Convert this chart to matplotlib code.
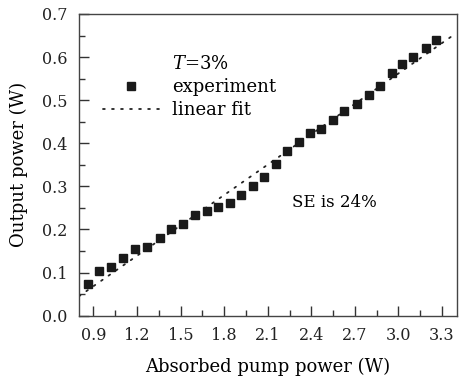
import matplotlib
matplotlib.use("Agg")
import matplotlib.pyplot as plt
from matplotlib.lines import Line2D
from matplotlib.ticker import MultipleLocator
import numpy as np

plt.rcParams["font.family"] = ["DejaVu Serif"]
plt.rcParams["mathtext.fontset"] = "dejavuserif"

# measured points (absorbed pump power W, output power W)
pump_power = [0.86, 0.94, 1.02, 1.10, 1.187, 1.27, 1.358, 1.436, 1.516, 1.60,
              1.68, 1.756, 1.84, 1.916, 2.00, 2.074, 2.156, 2.236, 2.314, 2.389,
              2.47, 2.547, 2.627, 2.718, 2.799, 2.874, 2.956, 3.027, 3.10, 3.19,
              3.258]
output_power = [0.073, 0.103, 0.112, 0.133, 0.154, 0.160, 0.181, 0.202, 0.212, 0.233,
                0.242, 0.252, 0.262, 0.281, 0.302, 0.322, 0.351, 0.383, 0.402, 0.423,
                0.434, 0.454, 0.475, 0.492, 0.513, 0.532, 0.564, 0.583, 0.601, 0.621,
                0.640]

# linear fit parameters (slope efficiency ~24%)
fit_slope = 0.235
fit_intercept = -0.143
fit_range = [0.8, 3.36]

fig = plt.figure(figsize=(4.59, 3.81), dpi=100)
ax = fig.add_axes([0.172, 0.1714, 0.8226, 0.7919])

fit_x = np.array(fit_range)
ax.plot(fit_x, fit_slope * fit_x + fit_intercept, color="#222222",
        linestyle=(0, (1, 4)), linewidth=1.3, dash_capstyle="round",
        label="linear fit", zorder=2)
ax.plot(pump_power, output_power, linestyle="none", marker="s",
        markersize=5.8, color="#1a1a1a", label="experiment", zorder=3)

ax.set_xlim(0.8, 3.4)
ax.set_ylim(0.0, 0.7)
ax.xaxis.set_minor_locator(MultipleLocator(0.15))
ax.yaxis.set_major_locator(MultipleLocator(0.1))
ax.yaxis.set_minor_locator(MultipleLocator(0.05))
ax.set_xticks(np.arange(0.9, 3.31, 0.3))
ax.xaxis.set_major_formatter(plt.FormatStrFormatter("%.1f"))
ax.yaxis.set_major_formatter(plt.FormatStrFormatter("%.1f"))

ax.tick_params(which="both", direction="in", top=False, right=False,
               labelsize=11.5, color="#333333", colors="#222222")
ax.tick_params(which="major", length=7, width=1)
ax.tick_params(which="minor", length=4, width=1)
ax.tick_params(axis="x", pad=8)
ax.tick_params(axis="y", pad=8)
for sp in ax.spines.values():
    sp.set_color("#444444")
    sp.set_linewidth(1.0)

ax.set_xlabel("Absorbed pump power (W)", fontsize=13, labelpad=10)
ax.set_ylabel("Output power (W)", fontsize=13, labelpad=10)

handles, labels = ax.get_legend_handles_labels()
blank = Line2D([], [], linestyle="none")
ax.legend([blank, handles[1], handles[0]], ["$T$=3%", "experiment", "linear fit"],
          loc="upper left", bbox_to_anchor=(0.03, 0.905), frameon=False,
          fontsize=13, handlelength=3.1, handletextpad=0.75, labelspacing=0.27,
          borderaxespad=0.3)

ax.text(0.565, 0.375, "SE is 24%", transform=ax.transAxes, fontsize=12,
        ha="left", va="center")

fig.savefig("out.png", dpi=100)
